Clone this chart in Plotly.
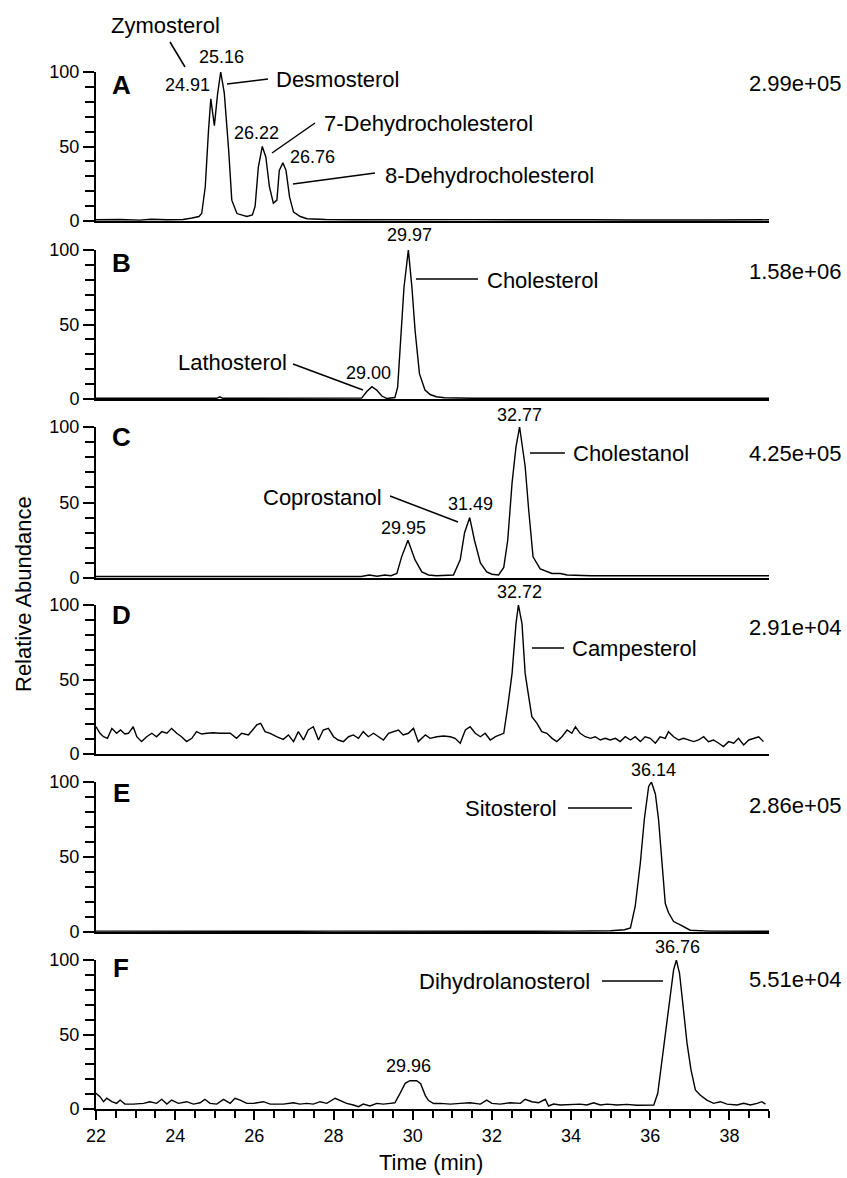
import plotly.graph_objects as go
from plotly.subplots import make_subplots

# ---------------- data ----------------
A_t = [22.0, 22.6, 23.1, 23.4, 23.8, 24.2, 24.43, 24.6, 24.67, 24.76, 24.84, 24.90, 24.99, 25.07, 25.15,
       25.24, 25.35, 25.43, 25.56, 25.81, 25.95, 26.02, 26.10, 26.20, 26.29, 26.38, 26.48, 26.57, 26.63,
       26.72, 26.80, 26.89, 26.99, 27.16, 27.33, 27.8, 28.5, 29.5, 30.5, 31.5, 32.5, 33.5, 34.5, 35.5,
       36.5, 37.5, 39.0]
A_v = [0.8, 1.0, 0.6, 1.2, 0.8, 1.0, 2, 3, 5, 23, 60, 82, 64, 85, 100,
       86, 48, 14, 5, 3, 4, 10, 36, 50, 43, 23, 12, 14, 34,
       39, 34, 16, 6, 3, 1.5, 1.0, 0.8, 1.0, 0.7, 0.9, 0.8, 0.6, 0.8, 0.7,
       0.9, 0.7, 0.8]

B_t = [22.0, 23.0, 24.0, 25.05, 25.13, 25.2, 26.0, 27.0, 28.0, 28.6, 28.71, 28.84, 28.97, 29.09, 29.22,
       29.35, 29.45, 29.55, 29.62, 29.68, 29.78, 29.89, 29.98, 30.06, 30.17, 30.31, 30.44, 30.6, 30.8,
       31.5, 32.5, 33.5, 34.5, 35.5, 36.5, 37.5, 39.0]
B_v = [0.5, 0.5, 0.5, 0.5, 1.5, 0.5, 0.5, 0.5, 0.5, 0.5, 0.6, 5, 8.3, 6, 2,
       0.3, 0.5, 1, 8, 31, 75, 100, 75, 46, 17, 6, 3, 1.5, 0.8,
       0.5, 0.5, 0.5, 0.5, 0.5, 0.5, 0.5, 0.5]

C_t = [22.0, 23.0, 24.0, 25.0, 26.0, 27.0, 28.0, 28.5, 28.7, 28.9, 29.1, 29.3, 29.45, 29.60, 29.72,
       29.88, 30.06, 30.23, 30.40, 30.6, 31.03, 31.20, 31.31, 31.44, 31.56, 31.71, 31.87, 32.0, 32.17,
       32.30, 32.40, 32.51, 32.61, 32.70, 32.84, 32.93, 33.04, 33.22, 33.52, 33.73, 33.90, 34.5, 35.5,
       36.5, 37.5, 38.5, 39.0]
C_v = [1.0, 1.0, 1.0, 1.0, 1.0, 1.0, 1.0, 1.5, 1.0, 2.0, 1.2, 2.0, 1.5, 3, 14,
       25, 12, 4, 2, 1.5, 2, 12, 30, 40, 25, 10, 4, 2.5, 2,
       7, 25, 63, 87, 100, 74, 45, 14, 6, 3, 3, 2, 1.5, 1.5,
       1.5, 1.5, 1.5, 1.5]

D_t = [22.00, 22.10, 22.19, 22.29, 22.40, 22.52, 22.62, 22.73, 22.82, 22.94, 23.03, 23.15, 23.28, 23.41,
       23.53, 23.66, 23.79, 23.91, 24.04, 24.16, 24.29, 24.42, 24.54, 24.67, 24.80, 24.96, 25.13, 25.39,
       25.55, 25.68, 25.85, 25.98, 26.06, 26.16, 26.27, 26.40, 26.56, 26.73, 26.86, 26.99, 27.11, 27.24,
       27.36, 27.49, 27.62, 27.74, 27.87, 28.00, 28.12, 28.25, 28.38, 28.50, 28.63, 28.75, 28.88, 29.01,
       29.13, 29.26, 29.39, 29.51, 29.64, 29.76, 29.89, 30.02, 30.14, 30.27, 30.32, 30.44, 30.61, 30.78,
       30.95, 31.07, 31.20, 31.33, 31.45, 31.58, 31.71, 31.83, 31.96, 32.09, 32.21, 32.30, 32.40, 32.51,
       32.61, 32.67, 32.76, 32.84, 32.93, 33.01, 33.14, 33.26, 33.39, 33.52, 33.64, 33.77, 33.90, 34.02,
       34.11, 34.23, 34.36, 34.49, 34.61, 34.74, 34.86, 34.99, 35.12, 35.24, 35.37, 35.50, 35.62, 35.75,
       35.87, 36.00, 36.13, 36.25, 36.38, 36.46, 36.59, 36.72, 36.84, 36.97, 37.10, 37.22, 37.35, 37.47,
       37.60, 37.73, 37.85, 37.98, 38.11, 38.23, 38.36, 38.49, 38.61, 38.74, 38.86]
D_v = [18.3, 13.9, 11.6, 10.5, 17.2, 13.9, 16.1, 13.4, 13.9, 18.3, 11.6, 8.3, 11.6, 13.9,
       11.6, 15.0, 13.9, 17.2, 13.9, 11.6, 8.3, 10.5, 15.0, 13.4, 13.9, 14.3, 13.9, 13.9,
       10.5, 13.9, 12.8, 16.6, 19.5, 20.6, 15.0, 13.9, 11.6, 9.8, 12.8, 8.3, 15.0, 9.4,
       16.1, 18.3, 9.4, 16.1, 17.2, 11.6, 9.4, 8.3, 11.6, 12.8, 10.5, 15.0, 11.6, 13.9,
       11.6, 9.4, 13.9, 15.0, 16.1, 12.8, 13.9, 17.2, 8.3, 11.6, 12.8, 10.5, 11.6, 12.1,
       11.6, 10.5, 7.2, 16.1, 18.3, 13.9, 11.6, 13.9, 9.4, 11.6, 12.8, 13.9, 31.8, 54.1,
       87.7, 100, 87.7, 54.1, 38.5, 25.1, 20.6, 15.0, 13.9, 10.5, 8.3, 11.6, 16.1, 13.9,
       18.3, 13.9, 11.6, 10.5, 11.6, 9.4, 10.5, 9.4, 10.5, 8.3, 11.6, 9.4, 11.6, 8.3,
       11.6, 10.5, 7.2, 11.6, 10.5, 15.0, 11.6, 9.4, 10.5, 9.4, 8.3, 9.4, 11.6, 8.3,
       9.4, 7.2, 5.0, 8.3, 7.2, 10.5, 6.1, 9.4, 10.5, 11.6, 8.3]

E_t = [22.0, 23.0, 24.0, 25.0, 26.0, 27.0, 28.0, 29.0, 30.0, 31.0, 32.0, 33.0, 34.0, 35.0, 35.35,
       35.50, 35.62, 35.75, 35.85, 35.96, 36.03, 36.13, 36.21, 36.30, 36.38, 36.46, 36.59, 36.76, 36.93,
       37.01, 37.5, 38.0, 38.5, 39.0]
E_v = [0.6, 0.5, 0.6, 0.5, 0.6, 0.5, 0.6, 0.5, 0.6, 0.5, 0.6, 0.5, 0.6, 0.8, 1.5,
       2.7, 17, 46, 75, 97, 100, 92, 75, 46, 19, 13, 7, 4.7, 2.4,
       1.2, 0.6, 0.5, 0.6, 0.5]

F_t = [22.00, 22.10, 22.19, 22.27, 22.40, 22.52, 22.61, 22.73, 22.94, 23.20, 23.36, 23.53, 23.66, 23.79,
       23.91, 24.08, 24.29, 24.46, 24.63, 24.75, 24.88, 25.05, 25.22, 25.39, 25.51, 25.64, 25.81, 25.98,
       26.23, 26.40, 26.56, 26.73, 26.99, 27.15, 27.32, 27.49, 27.66, 27.83, 28.04, 28.16, 28.33, 28.50,
       28.63, 28.75, 28.92, 29.09, 29.26, 29.43, 29.55, 29.68, 29.81, 29.93, 30.10, 30.20, 30.28, 30.32,
       30.40, 30.53, 30.70, 30.95, 31.20, 31.45, 31.71, 31.87, 32.00, 32.21, 32.46, 32.72, 32.84, 33.01,
       33.18, 33.35, 33.43, 33.56, 33.73, 33.98, 34.23, 34.40, 34.57, 34.74, 34.91, 35.16, 35.41, 35.66,
       35.92, 36.09, 36.19, 36.30, 36.41, 36.51, 36.59, 36.66, 36.74, 36.84, 36.93, 37.03, 37.14, 37.26,
       37.43, 37.60, 37.77, 37.94, 38.19, 38.36, 38.53, 38.70, 38.82, 38.91]
F_v = [10.5, 8.3, 4.9, 7.2, 4.9, 3.8, 6.0, 3.3, 3.3, 3.8, 4.9, 3.8, 6.5, 3.3,
       6.0, 3.8, 4.9, 3.3, 4.2, 6.5, 3.8, 3.3, 6.5, 3.8, 7.2, 6.0, 3.8, 3.8,
       4.9, 3.3, 3.3, 3.3, 4.2, 3.3, 3.8, 3.3, 4.9, 3.8, 7.2, 6.0, 3.8, 2.7,
       1.6, 3.3, 2.0, 3.8, 3.3, 3.8, 4.2, 10.5, 17.2, 19.0, 19.0, 17.0, 12.0, 9.0,
       5.7, 3.7, 3.8, 3.3, 3.8, 4.2, 3.3, 6.0, 3.8, 3.3, 4.2, 3.8, 6.5, 4.9,
       4.2, 6.5, 2.0, 3.3, 2.7, 3.1, 3.3, 2.7, 4.2, 2.7, 3.3, 2.7, 3.1, 2.5,
       2.7, 2.7, 10.5, 32.9, 55.3, 77.6, 93.3, 100, 91.1, 66.5, 44.1, 26.2, 12.8, 9.4,
       6.0, 3.8, 4.9, 3.3, 2.7, 3.8, 2.7, 3.8, 4.9, 3.3]

series = [(A_t, A_v), (B_t, B_v), (C_t, C_v), (D_t, D_v), (E_t, E_v), (F_t, F_v)]
panel_letters = ["A", "B", "C", "D", "E", "F"]
scale_labels = ["2.99e+05", "1.58e+06", "4.25e+05", "2.91e+04", "2.86e+05", "5.51e+04"]
x_ticks = [22, 24, 26, 28, 30, 32, 34, 36, 38]

# ---------------- layout geometry ----------------
W, H = 847, 1178
ML, MR, MT, MB = 96, 78, 72, 69
PW, PH = W - ML - MR, H - MT - MB
FONT = "Liberation Sans, Arial, sans-serif"
panel_px = [(72, 221), (250, 399), (427, 578), (605, 754), (782, 932), (960, 1109)]


def xp(x):
    return (x - ML) / PW


def yp(y):
    return (H - MB - y) / PH


fig = make_subplots(rows=6, cols=1)

for i, (t, v) in enumerate(series):
    fig.add_trace(go.Scatter(x=t, y=v, mode="lines", line=dict(color="black", width=1.4),
                             showlegend=False, hoverinfo="skip"), row=i + 1, col=1)

for i, (top, bot) in enumerate(panel_px):
    n = "" if i == 0 else str(i + 1)
    last = (i == 5)
    fig.layout["yaxis" + n].update(
        domain=[yp(bot), yp(top)], range=[0, 100], tickmode="array", tickvals=[0, 50, 100],
        ticks="outside", ticklen=11, tickwidth=1.6, tickcolor="black",
        minor=dict(tickmode="linear", tick0=0, dtick=10, ticks="outside", ticklen=9,
                   tickwidth=1.6, tickcolor="black", showgrid=False),
        showline=True, linewidth=2, linecolor="black", showgrid=False, zeroline=False,
        tickfont=dict(family=FONT, size=18, color="black"), fixedrange=True)
    xa = dict(range=[22, 39], showline=True, linewidth=2, linecolor="black", showgrid=False,
              zeroline=False, fixedrange=True)
    if last:
        xa.update(tickmode="array", tickvals=x_ticks, ticks="outside", ticklen=9, tickwidth=1.6,
                  tickcolor="black", showticklabels=True,
                  minor=dict(tickmode="linear", tick0=22, dtick=0.5, ticks="outside", ticklen=7,
                             tickwidth=1.6, tickcolor="black", showgrid=False),
                  tickfont=dict(family=FONT, size=18, color="black"))
    else:
        xa.update(ticks="", showticklabels=False)
    fig.layout["xaxis" + n].update(**xa)

annotations = []
shapes = []


def txt(s, x, y, size=22, xanchor="center", bold=False, angle=0):
    annotations.append(dict(text=("<b>%s</b>" % s) if bold else s, x=xp(x), y=yp(y),
                            xref="paper", yref="paper", showarrow=False, xanchor=xanchor,
                            yanchor="middle", textangle=angle,
                            font=dict(family=FONT, size=size, color="black")))


def line(x0, y0, x1, y1):
    shapes.append(dict(type="line", xref="paper", yref="paper", x0=xp(x0), y0=yp(y0),
                       x1=xp(x1), y1=yp(y1), line=dict(color="black", width=1.5)))


# panel letters and scale labels
letter_y = [85, 263, 437, 615, 793, 968]
scale_y = [83, 272, 453, 627, 805, 979]
for i in range(6):
    txt(panel_letters[i], 121, letter_y[i], size=26, bold=True)
    txt(scale_labels[i], 843, scale_y[i], size=22, xanchor="right")

# Panel A
txt("Zymosterol", 165, 25); line(170, 42, 185, 67)
txt("25.16", 221, 57, 18)
txt("24.91", 187, 85, 18)
txt("Desmosterol", 337, 80); line(227, 84, 268, 79)
txt("26.22", 256, 133, 18)
txt("7-Dehydrocholesterol", 428, 123); line(272, 153, 315, 123)
txt("26.76", 312, 157, 18)
txt("8-Dehydrocholesterol", 489, 175); line(293, 184, 375, 173)
# Panel B
txt("29.97", 409, 235, 18)
txt("Cholesterol", 542, 280); line(416, 279, 478, 279)
txt("Lathosterol", 232, 362); line(293, 364, 363, 390)
txt("29.00", 368, 373, 18)
# Panel C
txt("32.77", 519, 415, 18)
txt("Cholestanol", 631, 453); line(530, 453, 565, 453)
txt("31.49", 470, 504, 18)
txt("Coprostanol", 322, 497); line(390, 496, 458, 522)
txt("29.95", 403, 528, 18)
# Panel D
txt("32.72", 519, 592, 18)
txt("Campesterol", 634, 648); line(532, 648, 564, 648)
# Panel E
txt("36.14", 653, 770, 18)
txt("Sitosterol", 511, 808); line(568, 808, 632, 808)
# Panel F
txt("36.76", 677, 947, 18)
txt("Dihydrolanosterol", 505, 981); line(602, 981, 663, 981)
txt("29.96", 408, 1066, 18)

# axis titles
txt("Relative Abundance", 24, 594, 22, angle=-90)
txt("Time (min)", 431, 1162, 22)

fig.update_layout(width=W, height=H, margin=dict(l=ML, r=MR, t=MT, b=MB, autoexpand=False),
                  paper_bgcolor="white", plot_bgcolor="white", showlegend=False,
                  annotations=annotations, shapes=shapes,
                  font=dict(family=FONT, color="black"))

fig.write_html("out.html", config={"displayModeBar": False},
               post_script="document.body.style.margin='0';document.body.style.padding='0';"
                           "document.body.style.overflow='hidden';")
